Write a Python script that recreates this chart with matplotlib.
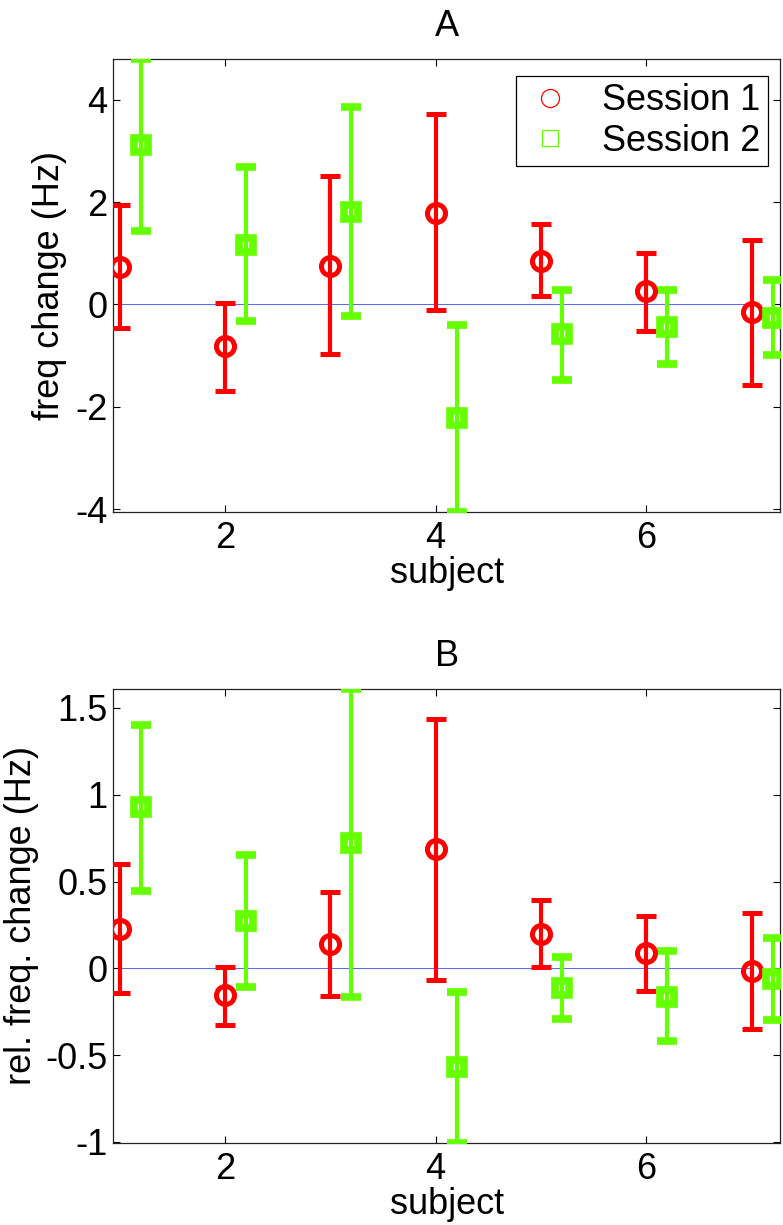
import matplotlib
matplotlib.use("Agg")
import matplotlib.pyplot as plt
from matplotlib.lines import Line2D
import numpy as np

plt.rcParams['font.family'] = ['Liberation Sans', 'DejaVu Sans']

# subjects, session 2 drawn slightly shifted to the right
subjects = [1, 2, 3, 4, 5, 6, 7]
shift = 0.2

# panel A: freq change (Hz), mean with lower / upper end of bar
a_s1_mean = [0.74, -0.81, 0.76, 1.79, 0.85, 0.27, -0.14]
a_s1_low = [-0.46, -1.69, -0.96, -0.11, 0.16, -0.52, -1.58]
a_s1_high = [1.94, 0.02, 2.51, 3.72, 1.57, 1.01, 1.26]
a_s2_mean = [3.12, 1.16, 1.80, -2.22, -0.58, -0.44, -0.27]
a_s2_low = [1.44, -0.32, -0.22, -4.05, -1.47, -1.17, -0.99]
a_s2_high = [4.79, 2.69, 3.85, -0.41, 0.29, 0.29, 0.48]

# panel B: rel. freq. change
b_s1_mean = [0.225, -0.154, 0.138, 0.687, 0.198, 0.086, -0.015]
b_s1_low = [-0.14, -0.326, -0.16, -0.067, 0.01, -0.129, -0.35]
b_s1_high = [0.60, 0.01, 0.44, 1.436, 0.394, 0.30, 0.32]
b_s2_mean = [0.93, 0.27, 0.72, -0.566, -0.115, -0.163, -0.061]
b_s2_low = [0.447, -0.11, -0.167, -1.004, -0.294, -0.42, -0.30]
b_s2_high = [1.40, 0.65, 1.607, -0.138, 0.067, 0.10, 0.173]

red = '#ff0000'
green = '#66ff00'
fs = 26


def draw_panel(ax, s1, s2, ylim, yticks, yticklabels, title, ylabel, label_x):
    x = np.array(subjects, dtype=float)
    ax.plot([0.9, 7.0], [0, 0], color='#3a4cff', lw=0.6, zorder=1)

    for xs, (m, lo, hi), col, mk, ms, mew in [
            (x, s1, red, 'o', 13, 3.6),
            (x + shift, s2, green, 's', 9.5, 5.5)]:
        m = np.array(m)
        yerr = [m - np.array(lo), np.array(hi) - m]
        ax.errorbar(xs, m, yerr=yerr, fmt=mk, color=col, ecolor=col,
                    elinewidth=3.0, capsize=7, capthick=3.2,
                    markersize=ms, markeredgewidth=mew,
                    markerfacecolor='none', markeredgecolor=col,
                    zorder=3, clip_on=True)

    ax.set_xlim(0.94, 7.27)
    ax.set_ylim(*ylim)
    ax.set_xticks([2, 4, 6])
    ax.set_yticks(yticks)
    ax.set_yticklabels(yticklabels)
    ax.tick_params(direction='in', length=5, width=0.8, top=True, right=True,
                   labelsize=fs)
    ax.tick_params(axis='x', pad=7)
    ax.tick_params(axis='y', pad=4)
    for sp in ax.spines.values():
        sp.set_linewidth(0.9)
        sp.set_color('#222222')
    ax.set_title(title, fontsize=fs, pad=17)
    ax.set_xlabel('subject', fontsize=fs, labelpad=0)
    ax.set_ylabel(ylabel, fontsize=fs, va='center')
    ax.yaxis.set_label_coords(label_x, 0.5)


fig = plt.figure(figsize=(7.83, 12.25), dpi=100)
ax_a = fig.add_axes([0.1447, 0.5823, 0.8515, 0.3693])
ax_b = fig.add_axes([0.1447, 0.0672, 0.8515, 0.3701])

draw_panel(ax_a, (a_s1_mean, a_s1_low, a_s1_high), (a_s2_mean, a_s2_low, a_s2_high),
           (-4.05, 4.79), [-4, -2, 0, 2, 4], ['-4', '-2', '0', '2', '4'],
           'A', 'freq change (Hz)', -0.095)
draw_panel(ax_b, (b_s1_mean, b_s1_low, b_s1_high), (b_s2_mean, b_s2_low, b_s2_high),
           (-1.004, 1.607), [-1, -0.5, 0, 0.5, 1, 1.5],
           ['-1', '-0.5', '0', '0.5', '1', '1.5'],
           'B', 'rel. freq. change (Hz)', -0.137)

handles = [Line2D([], [], ls='none', marker='o', color=red, markerfacecolor='none',
                  markersize=13, markeredgewidth=0.9),
           Line2D([], [], ls='none', marker='s', color=green, markerfacecolor='none',
                  markersize=11, markeredgewidth=0.9)]
leg = ax_a.legend(handles, ['Session 1', 'Session 2'], loc='upper right',
                  bbox_to_anchor=(0.982, 0.963), borderaxespad=0, fontsize=fs,
                  frameon=True, fancybox=False, framealpha=1, handletextpad=0.7,
                  borderpad=0.2, labelspacing=0.15, handlelength=1.5)
leg.get_frame().set_edgecolor('black')
leg.get_frame().set_linewidth(0.9)

fig.savefig('out.png', dpi=100)
